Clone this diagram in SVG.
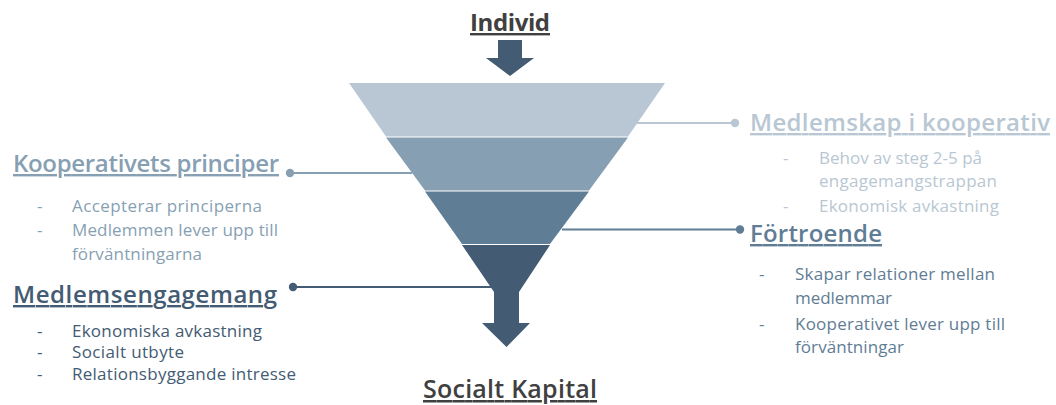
<svg xmlns="http://www.w3.org/2000/svg" width="1056" height="405" viewBox="0 0 1056 405">
  <style>
    text { font-family: "Open Sans", "Noto Sans", "Liberation Sans", sans-serif; }
    .head { font-size: 24px; font-weight: 600; text-decoration: underline; }
    .main { font-size: 24px; font-weight: 700; fill: #404040; text-decoration: underline; }
    .item { font-size: 17px; font-weight: 500; }
    .c1 { fill: #B8C7D3; }
    .c2 { fill: #879FB3; }
    .c3 { fill: #5F7D95; }
    .c4 { fill: #435B73; }
    .conn { stroke-width: 2.2; fill: none; }
  </style>

  <!-- entry arrow -->
  <g id="individ">
    <text class="main" x="470" y="31" textLength="80" lengthAdjust="spacing">Individ</text>
    <polygon class="c4" points="498,40 522,40 522,58 534,58 510,76 486,58 498,58"/>
  </g>

  <!-- funnel bands, widest on top -->
  <g id="funnel">
    <polygon class="c1" points="349,83 665,83 628,136.5 386,136.5"/>
    <polygon class="c2" points="386,137.5 628,137.5 589,190.5 425,190.5"/>
    <polygon class="c3" points="425,191.5 589,191.5 550,244 462,244"/>
    <polygon class="c4" points="462,245 550,245 519,292 519,323 530,323 506.5,347 482,323 494,323 494,292"/>
  </g>

  <!-- leader lines from bands to labels -->
  <g id="connectors">
    <line class="conn" x1="633" y1="123" x2="735" y2="123" stroke="#B8C7D3"/>
    <circle cx="735" cy="123" r="4.2" fill="#B8C7D3"/>
    <line class="conn" x1="290" y1="173" x2="412" y2="173" stroke="#879FB3"/>
    <circle cx="290" cy="173" r="4.2" fill="#879FB3"/>
    <line class="conn" x1="562" y1="229.5" x2="740" y2="229.5" stroke="#5F7D95"/>
    <circle cx="740" cy="229.5" r="4.2" fill="#5F7D95"/>
    <line class="conn" x1="293" y1="287" x2="491" y2="287" stroke="#435B73"/>
    <circle cx="293" cy="287" r="4.2" fill="#435B73"/>
  </g>

  <g id="medlemskap">
    <text class="head c1" x="750" y="131" textLength="300" lengthAdjust="spacing">Medlemskap i kooperativ</text>
    <text class="item c1" x="783" y="164">-</text>
    <text class="item c1" x="819" y="164" textLength="163" lengthAdjust="spacing">Behov av steg 2-5 på</text>
    <text class="item c1" x="819" y="187" textLength="178" lengthAdjust="spacing">engagemangstrappan</text>
    <text class="item c1" x="783" y="212">-</text>
    <text class="item c1" x="819" y="212" textLength="180" lengthAdjust="spacing">Ekonomisk avkastning</text>
  </g>

  <g id="principer">
    <text class="head c2" x="13" y="172" textLength="266" lengthAdjust="spacing">Kooperativets principer</text>
    <text class="item c2" x="37" y="212">-</text>
    <text class="item c2" x="72" y="212" textLength="190" lengthAdjust="spacing">Accepterar principerna</text>
    <text class="item c2" x="37" y="236">-</text>
    <text class="item c2" x="72" y="236" textLength="206" lengthAdjust="spacing">Medlemmen lever upp till</text>
    <text class="item c2" x="72" y="260" textLength="130" lengthAdjust="spacing">förväntningarna</text>
  </g>

  <g id="fortroende">
    <text class="head c3" x="750" y="242" textLength="132" lengthAdjust="spacing">Förtroende</text>
    <text class="item c3" x="759" y="280">-</text>
    <text class="item c3" x="795" y="280" textLength="200" lengthAdjust="spacing">Skapar relationer mellan</text>
    <text class="item c3" x="795" y="304" textLength="97" lengthAdjust="spacing">medlemmar</text>
    <text class="item c3" x="759" y="330">-</text>
    <text class="item c3" x="795" y="330" textLength="210" lengthAdjust="spacing">Kooperativet lever upp till</text>
    <text class="item c3" x="795" y="353" textLength="109" lengthAdjust="spacing">förväntningar</text>
  </g>

  <g id="engagemang">
    <text class="head c4" x="13" y="303" textLength="264" lengthAdjust="spacing">Medlemsengagemang</text>
    <text class="item c4" x="37" y="337">-</text>
    <text class="item c4" x="72" y="337" textLength="190" lengthAdjust="spacing">Ekonomiska avkastning</text>
    <text class="item c4" x="37" y="358">-</text>
    <text class="item c4" x="72" y="358" textLength="112" lengthAdjust="spacing">Socialt utbyte</text>
    <text class="item c4" x="37" y="380">-</text>
    <text class="item c4" x="72" y="380" textLength="224" lengthAdjust="spacing">Relationsbyggande intresse</text>
  </g>

  <g id="socialt-kapital">
    <text class="main" x="423" y="398" textLength="174" lengthAdjust="spacing" style="font-size:25px;font-weight:600">Socialt Kapital</text>
  </g>
</svg>
